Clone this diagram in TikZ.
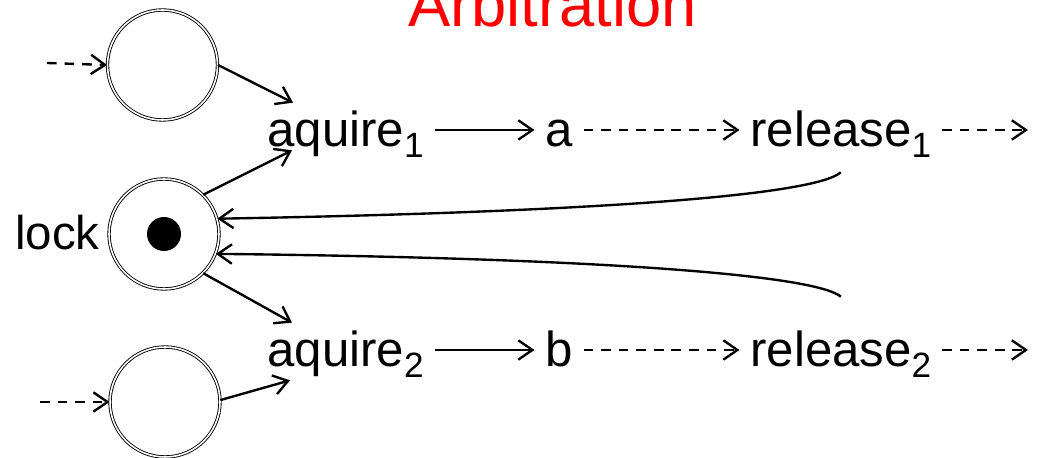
\documentclass[tikz,border=0pt]{standalone}
\usepackage{fontspec}
\setmainfont{Liberation Sans}
\usetikzlibrary{arrows.meta}
\newcommand{\subidx}[1]{\raisebox{-0.22cm}{\fontsize{20}{20}\selectfont #1}}

\begin{document}
\begin{tikzpicture}[x=1cm,y=1cm,
  lugar/.style={circle,draw,double,double distance=0.9pt,line width=0.5pt,minimum size=2.2cm,inner sep=0pt},
  etiq/.style={font=\fontsize{28}{30}\selectfont,inner xsep=0.21cm,inner ysep=0pt,text height=0.68cm,text depth=0pt,anchor=base west},
  flecha/.style={line width=1.35pt,-{Straight Barb[length=8pt,width=11pt]}},
  punteada/.style={flecha,dash pattern=on 5.5pt off 4.5pt}]
  \useasboundingbox (0,0) rectangle (20.9,9.16);
  \node[anchor=base,text=red,font=\fontsize{36}{40}\selectfont,inner sep=0pt] (titulo) at (11.05,8.62) {Arbitration};
  \node[lugar] (p1) at (3.25,7.86) {};
  \node[lugar] (lock) at (3.28,4.48) {};
  \node[lugar] (p2) at (3.30,1.12) {};
  \node[circle,fill,minimum size=0.68cm,inner sep=0pt] (ficha) at (lock) {};
  \node[anchor=base east,font=\fontsize{27}{30}\selectfont,inner sep=0pt] (locklbl) at (2.0,4.16) {lock};
  \node[etiq] (aq1) at (5.13,6.22) {aquire\subidx{1}};
  \node[etiq] (a) at (10.69,6.22) {a};
  \node[etiq] (rel1) at (14.79,6.22) {release\subidx{1}};
  \node[etiq] (aq2) at (5.13,1.82) {aquire\subidx{2}};
  \node[etiq] (b) at (10.69,1.82) {b};
  \node[etiq] (rel2) at (14.79,1.82) {release\subidx{2}};
  \coordinate (in1) at (0.94,7.9);
  \coordinate (in2) at (0.80,1.12);
  \coordinate (out1) at (20.56,6.56);
  \coordinate (out2) at (20.56,2.16);
  % entradas y salidas
  \draw[punteada] (in1) -- (p1.west);
  \draw[punteada] (in2) -- (p2.west);
  \draw[punteada] (rel1.east) -- (out1);
  \draw[punteada] (rel2.east) -- (out2);
  % hilo 1
  \draw[flecha] (p1.east) -- ([shift={(0.73,0.2)}]aq1.north west);
  \draw[flecha] (lock.45) -- ([shift={(0.71,-0.06)}]aq1.south west);
  \draw[flecha] (aq1.east) -- (a.west);
  \draw[punteada] (a.east) -- (rel1.west);
  % hilo 2
  \draw[flecha] (p2.2) -- ([shift={(0.67,-0.26)}]aq2.south west);
  \draw[flecha] (lock.-45) -- ([shift={(0.71,0.2)}]aq2.north west);
  \draw[flecha] (aq2.east) -- (b.west);
  \draw[punteada] (b.east) -- (rel2.west);
  % devolucion del cerrojo
  \draw[flecha] ([yshift=-0.5cm]rel1.south) .. controls (16.3,5.26) and (12.0,4.92) .. (lock.16);
  \draw[flecha] ([yshift=0.72cm]rel2.north) .. controls (16.3,3.66) and (12.0,4.0) .. (lock.-21);
\end{tikzpicture}
\end{document}
